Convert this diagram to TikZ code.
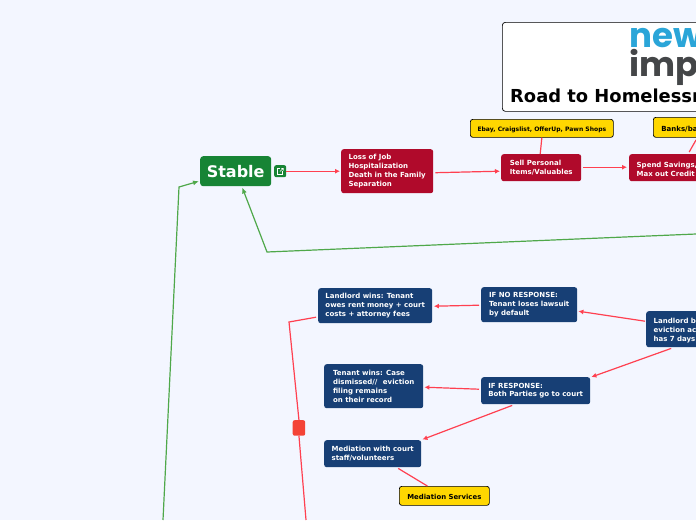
\documentclass[tikz,border=0pt]{standalone}
\usepackage{fontspec}
\setmainfont{DejaVu Sans}
\newfontfamily\logofont{Poppins}
\usetikzlibrary{calc,arrows.meta}
\definecolor{bgc}{HTML}{F3F6FF}
\definecolor{redbox}{HTML}{B00A2B}
\definecolor{navybox}{HTML}{173F75}
\definecolor{greenbox}{HTML}{178435}
\definecolor{yellowbox}{HTML}{FFD700}
\definecolor{redline}{HTML}{FF4050}
\definecolor{greenline}{HTML}{4FA84A}
\definecolor{redmark}{HTML}{F44336}
\definecolor{logoblue}{HTML}{2AA5D8}
\definecolor{logogrey}{HTML}{444648}
\tikzset{
  x=1pt,y=-1pt,
  boxbase/.style={rounded corners=2.5pt,anchor=north west,inner xsep=0pt,inner ysep=0pt,align=left,font=\fontsize{7}{8.8}\selectfont\bfseries,text=white,execute at begin node={\rule{0pt}{8pt}}},
  redcard/.style={boxbase,fill=redbox},
  navycard/.style={boxbase,fill=navybox},
  yellowcard/.style={boxbase,fill=yellowbox,draw=black,line width=.7pt,text=black,align=center,font=\fontsize{6.9}{8}\selectfont\bfseries,execute at begin node={\rule{0pt}{6pt}}},
  redarrow/.style={draw=redline,line width=1.2pt,-{Latex[length=5pt,width=5pt]}},
  redlink/.style={draw=redline,line width=1.2pt},
  greenarrow/.style={draw=greenline,line width=1.2pt,-{Latex[length=6pt,width=5pt]}},
  logotext/.style={anchor=base west,inner sep=0pt,text depth=0pt,font=\fontsize{34}{34}\selectfont\logofont\bfseries},
}
\begin{document}
\begin{tikzpicture}
\useasboundingbox (0,0) rectangle (696,520);
\clip (0,0) rectangle (696,520);
\fill[bgc] (0,0) rectangle (696,520);

% title panel
\node[draw=black,fill=white,rounded corners=3pt,line width=.7pt,anchor=north west,minimum width=260pt,minimum height=89pt] (panel) at (502,22) {};
\node[logotext,text=logoblue] (lnew) at (629,47.5) {new};
\node[logotext,text=logogrey] (limp) at (629,76) {imp};
\node[anchor=base west,inner sep=0pt,font=\fontsize{17.9}{20}\selectfont\bfseries] (title) at (510,102.5) {Road to Homelessn};

% main nodes
\node[fill=greenbox,rounded corners=3pt,anchor=north west,minimum width=71pt,minimum height=30pt,inner sep=0pt,text=white,font=\fontsize{16}{18}\selectfont\bfseries] (stable) at (200,156) {Stable};
\node[fill=greenbox,rounded corners=2pt,anchor=north west,minimum width=12pt,minimum height=12pt,inner sep=0pt] (icon) at (274,165) {};
\draw[white,line width=.6pt] (282.5,171) -- (282.5,174) -- (277.5,174) -- (277.5,168.5) -- (280,168.5);
\draw[white,line width=.6pt] (280,171.5) -- (283,168.5) (281,168.3) -- (283.2,168.3) -- (283.2,170.5);

\node[redcard,minimum width=92pt,minimum height=44pt] (loss) at (341,149) {Loss of Job\\Hospitalization\\Death in the Family\\Separation};
\node[redcard,minimum width=80pt,minimum height=27pt] (sell) at (501,154) {Sell Personal\\Items/Valuables};
\node[redcard,minimum width=90pt,minimum height=27pt,inner xsep=7.5pt,text width=75pt] (spend) at (629,154) {Spend Savings,\\Max out Credit};

\node[yellowcard,minimum width=143pt,minimum height=18pt,font=\fontsize{6.05}{8}\selectfont\bfseries] (ebay) at (470,119) {Ebay, Craigslist, OfferUp, Pawn Shops};
\node[yellowcard,minimum width=70pt,minimum height=20pt,inner xsep=8pt,text width=54pt,align=left,font=\fontsize{7}{8}\selectfont\bfseries] (banks) at (653,117) {Banks/ba};

\node[navycard,minimum width=114pt,minimum height=35pt] (lwins) at (318,288) {Landlord wins: Tenant\\owes rent money + court\\costs + attorney fees};
\node[navycard,minimum width=99pt,minimum height=44pt] (twins) at (324,364) {Tenant wins: Case\\dismissed//\hspace{3pt} eviction\\filing remains\\on their record};
\node[navycard,minimum width=97pt,minimum height=27pt] (med) at (324,440) {Mediation with court\\staff/volunteers};
\node[yellowcard,minimum width=90pt,minimum height=19pt] (medsvc) at (399,486) {Mediation Services};
\node[navycard,minimum width=96pt,minimum height=35pt] (noresp) at (481,287) {IF NO RESPONSE:\\Tenant loses lawsuit\\by default};
\node[navycard,minimum width=109pt,minimum height=27pt] (resp) at (481,377) {IF RESPONSE:\\Both Parties go to court};
\node[navycard,minimum width=80pt,minimum height=36pt,inner xsep=7.5pt,text width=65pt] (filed) at (646,311) {Landlord b\\eviction ac\\has 7 days};

\node[fill=redmark,rounded corners=2pt,anchor=north west,minimum width=12.5pt,minimum height=15.5pt,inner sep=0pt] (mark) at (292.5,420) {};

% free ends
\coordinate (edgeA) at (696,234);
\coordinate (bendA) at (267,252);
\coordinate (edgeB) at (163,520);
\coordinate (bendB) at (179,187);
\coordinate (edgeC) at (306,520);
\coordinate (bendC) at (289,322);
\coordinate (edgeD) at (696,140);

% red connectors
\draw[redarrow] (icon.east) -- ($(loss.west)+(-1,0)$);
\draw[redarrow] ($(loss.east)+(2,1.5)$) -- ($(sell.west)+(-1,3.5)$);
\draw[redarrow] ($(sell.east)+(2,-.5)$) -- ($(spend.west)+(-2,-.5)$);
\draw[redlink] (ebay.south) -- ($(sell.north)+(-1,0)$);
\draw[redlink] (edgeD) -- ($(spend.north)+(15,-2)$);
\draw[redarrow] ($(filed.west)+(-1,-8)$) -- ($(noresp.east)+(1,6.5)$);
\draw[redarrow] ($(filed.south)+(-15,1)$) -- ($(resp.north east)+(1,0)$);
\draw[redarrow] ($(noresp.west)+(-2,.5)$) -- ($(lwins.east)+(1.5,.5)$);
\draw[redarrow] ($(resp.west)+(-2,-1.5)$) -- ($(twins.east)+(1,1)$);
\draw[redarrow] ($(resp.south)+(-23.5,1)$) -- ($(med.north east)+(1,-.5)$);
\draw[redlink] ($(med.south)+(25.5,1)$) -- ($(medsvc.north)+(-17,0)$);
\draw[redlink] ($(lwins.west)+(-2,11.5)$) -- (bendC) -- (mark.north);
\draw[redlink] (mark.south) -- (edgeC);

% green connectors
\draw[greenarrow] (edgeA) -- (bendA) -- ($(stable.south)+(6.5,1)$);
\draw[greenarrow] (edgeB) -- (bendB) -- ($(stable.west)+(-1,10)$);
\end{tikzpicture}
\end{document}
